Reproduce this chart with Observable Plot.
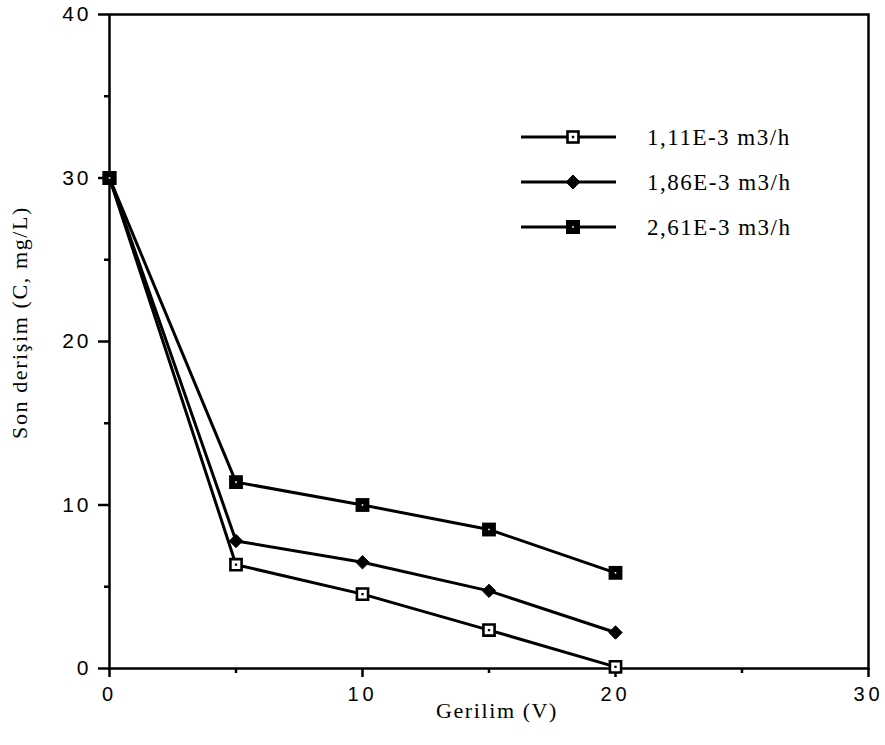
<!DOCTYPE html>
<html>
<head>
<meta charset="utf-8">
<script src="https://cdn.jsdelivr.net/npm/d3@7"></script>
<script src="https://cdn.jsdelivr.net/npm/@observablehq/plot@0.6"></script>
<style>
  html, body { margin: 0; padding: 0; background: #fff; }
  #chart { position: relative; width: 885px; height: 745px; }
  #chart g[aria-label="x-axis tick label"] text { font-family: 'Liberation Sans', Arial, sans-serif !important; font-size: 20px !important; letter-spacing: 4px !important; }
  #chart g[aria-label="y-axis tick label"] text { font-family: 'Liberation Sans', Arial, sans-serif !important; font-size: 21px !important; letter-spacing: 3px !important; }
  #chart g[aria-label="text"] text { font-family: 'Liberation Serif', 'Times New Roman', serif !important; font-size: 22px !important; letter-spacing: 1.6px !important; }
  #chart .legend text { font-family: 'Liberation Serif', 'Times New Roman', serif !important; font-size: 23px !important; letter-spacing: 1.5px !important; text-anchor: start !important; }
</style>
</head>
<body>
<div id="chart"></div>
<script>
// ---- data ----
const voltage = [0, 5, 10, 15, 20];
const series1 = [30, 6.35, 4.55, 2.35, 0.1];   // 1,11E-3 m3/h (open square)
const series2 = [30, 7.8, 6.5, 4.75, 2.2];     // 1,86E-3 m3/h (diamond)
const series3 = [30, 11.4, 10.0, 8.5, 5.85];   // 2,61E-3 m3/h (filled square)
const seriesNames = ["1,11E-3 m3/h", "1,86E-3 m3/h", "2,61E-3 m3/h"];
const xMajorTicks = [0, 10, 20, 30];
const xMinorTicks = [5, 15, 25];
const yMajorTicks = [0, 10, 20, 30, 40];
const yMinorTicks = [5, 15, 25, 35];
const xTitle = "Gerilim (V)";
const yTitle = "Son derişim (C, mg/L)";

const toRows = (vals, name) => voltage.map((v, i) => ({x: v, y: vals[i], s: name}));
const d1 = toRows(series1, seriesNames[0]);
const d2 = toRows(series2, seriesNames[1]);
const d3s = toRows(series3, seriesNames[2]);
const all = [...d1, ...d2, ...d3s];

const plot = Plot.plot({
  width: 885,
  height: 745,
  marginLeft: 109,
  marginRight: 17,
  marginTop: 14,
  marginBottom: 77,
  style: {background: "#fff", color: "#000", overflow: "visible"},
  x: {domain: [0, 30]},
  y: {domain: [0, 40]},
  marks: [
    Plot.frame({stroke: "#000", strokeWidth: 2.5}),
    Plot.axisX({ticks: xMajorTicks, tickSize: 9, tickPadding: 9, tickFormat: d => String(d), label: null, strokeWidth: 2.5}),
    Plot.axisX({ticks: xMinorTicks, tickSize: 5, text: null, label: null, strokeWidth: 2.5}),
    Plot.axisY({ticks: yMajorTicks, tickSize: 11, tickPadding: 7, tickFormat: d => String(d), label: null, strokeWidth: 2.5}),
    Plot.axisY({ticks: yMinorTicks, tickSize: 5, text: null, label: null, strokeWidth: 2.5}),
    Plot.line(all, {x: "x", y: "y", z: "s", stroke: "#000", strokeWidth: 3}),
    // series 1: open square with center dot
    Plot.dot(d1, {x: "x", y: "y", symbol: "square", r: 6.3, fill: "#fff", stroke: "#000", strokeWidth: 2.6}),
    Plot.dot(d1, {x: "x", y: "y", symbol: "square", r: 1.3, fill: "#000"}),
    // series 2: filled diamond
    Plot.dot(d2, {x: "x", y: "y", symbol: "diamond2", r: 6, fill: "#000", stroke: "#000", strokeWidth: 1}),
    // series 3: filled square with tiny white center
    Plot.dot(d3s, {x: "x", y: "y", symbol: "square", r: 7.8, fill: "#000"}),
    Plot.dot(d3s, {x: "x", y: "y", symbol: "square", r: 0.9, fill: "#fff"}),
    // axis titles
    Plot.text([xTitle], {frameAnchor: "bottom", dx: 8, dy: 49, lineAnchor: "bottom", fill: "#000"}),
    Plot.text([yTitle], {frameAnchor: "left", rotate: -90, dx: -83, dy: -19, lineAnchor: "bottom", textAnchor: "middle", fill: "#000"})
  ]
});

document.getElementById("chart").appendChild(plot);

// legend overlay
const svg = d3.select(plot);
const leg = svg.append("g").attr("class", "legend");
const rowsY = [137, 182, 227];
const markers = [
  g => { g.append("rect").attr("x", -5.5).attr("y", -5.5).attr("width", 11).attr("height", 11).attr("fill", "#fff").attr("stroke", "#000").attr("stroke-width", 2.6);
         g.append("rect").attr("x", -1.2).attr("y", -1.2).attr("width", 2.4).attr("height", 2.4).attr("fill", "#000"); },
  g => { g.append("path").attr("d", "M0,-7L7,0L0,7L-7,0Z").attr("fill", "#000").attr("stroke", "#000").attr("stroke-width", 1); },
  g => { g.append("rect").attr("x", -7).attr("y", -7).attr("width", 14).attr("height", 14).attr("fill", "#000");
         g.append("rect").attr("x", -0.8).attr("y", -0.8).attr("width", 1.6).attr("height", 1.6).attr("fill", "#fff"); }
];
seriesNames.forEach((name, i) => {
  const y = rowsY[i];
  leg.append("line").attr("x1", 521).attr("x2", 616).attr("y1", y).attr("y2", y).attr("stroke", "#000").attr("stroke-width", 3);
  const g = leg.append("g").attr("transform", `translate(573,${y})`);
  markers[i](g);
  leg.append("text").attr("x", 647).attr("y", y + 8).attr("text-anchor", "start").attr("fill", "#000").text(name);
});
</script>
</body>
</html>
